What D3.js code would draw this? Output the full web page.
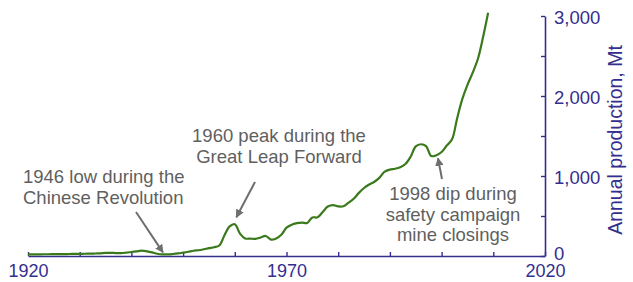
<!DOCTYPE html>
<html>
<head>
<meta charset="utf-8">
<script src="https://cdn.jsdelivr.net/npm/d3@7"></script>
<style>
  html, body { margin: 0; padding: 0; background: #fff; }
  svg { display: block; font-family: "Liberation Sans", Arial, Helvetica, sans-serif; }
</style>
</head>
<body>
<div id="chart"></div>
<script>
// China annual coal production, Mt
const years = d3.range(1920, 2010);
const production = [
  20, 20, 21, 22, 22, 23, 23, 24, 25, 26,
  27, 28, 29, 31, 34, 38, 40, 37, 36, 42,
  50, 58, 66, 58, 45, 28, 20, 20, 25, 32,
  42, 53, 66, 72, 84, 98, 110, 131, 260, 370,
  397, 280, 220, 217, 215, 232, 250, 205, 220, 266,
  354, 392, 410, 417, 413, 482, 483, 550, 618, 635,
  620, 622, 666, 715, 789, 850, 894, 928, 980, 1054,
  1080, 1090, 1110, 1150, 1240, 1370, 1397, 1373, 1250, 1260,
  1300, 1381, 1455, 1720, 1960, 2140, 2290, 2460, 2730, 3040
];
const xTickYears = [1920, 1930, 1940, 1950, 1960, 1970, 1980, 1990, 2000, 2010, 2020];
const xLabelYears = [1920, 1970, 2020];
const yTicks = [0, 500, 1000, 1500, 2000, 2500, 3000];
const yLabels = [0, 1000, 2000, 3000];
const yTitle = "Annual production, Mt";
const notes = [
  ["1946 low during the", "Chinese Revolution"],
  ["1960 peak during the", "Great Leap Forward"],
  ["1998 dip during", "safety campaign", "mine closings"]
];

const W = 633, H = 282;
const axisColor = "#342e8e";
const noteColor = "#5f5f5f";
const arrowColor = "#6e6e6e";

const svg = d3.select("#chart").append("svg").attr("width", W).attr("height", H);

const x = d3.scaleLinear().domain([1920, 2020]).range([28, 545]);
const y = d3.scaleLinear().domain([0, 3000]).range([256, 16]);

// x axis (ticks point up)
const gx = svg.append("g").attr("transform", `translate(0,${y(0)})`)
  .call(d3.axisBottom(x).tickValues(xTickYears).tickSizeInner(-4).tickSizeOuter(0).tickPadding(8)
    .tickFormat(d => xLabelYears.includes(d) ? String(d) : ""));
gx.select(".domain").attr("stroke", axisColor).attr("stroke-width", 1.6);
gx.selectAll(".tick line").attr("stroke", axisColor).attr("stroke-width", 1.4);
gx.selectAll(".tick text").attr("fill", axisColor).style("font-size", "18px")
  .style("font-family", "'Liberation Sans', Arial, sans-serif");

// y axis on the right (ticks point left, labels right)
const gy = svg.append("g").attr("transform", `translate(${x(2020)},0)`)
  .call(d3.axisRight(y).tickValues(yTicks).tickSizeInner(-4).tickSizeOuter(0).tickPadding(9)
    .tickFormat(d => yLabels.includes(d) ? d3.format(",")(d) : ""));
gy.select(".domain").attr("stroke", axisColor).attr("stroke-width", 1.6);
gy.selectAll(".tick line").attr("stroke", axisColor).attr("stroke-width", 1.4);
gy.selectAll(".tick text").attr("fill", axisColor)
  .attr("dy", d => d === 0 ? "0.2em" : "0.42em")
  .style("font-size", "18.5px")
  .style("font-family", "'Liberation Sans', Arial, sans-serif");

svg.append("text")
  .attr("transform", `translate(622,${(y(0) + y(3000)) / 2 + 4}) rotate(-90)`)
  .attr("text-anchor", "middle")
  .attr("fill", axisColor)
  .style("font-size", "19.5px")
  .text(yTitle);

// production line
const data = years.map((yr, i) => ({ year: yr, value: production[i] }));
const line = d3.line()
  .x(d => x(d.year))
  .y(d => y(d.value))
  .curve(d3.curveCatmullRom.alpha(0.5));

svg.append("path")
  .datum(data)
  .attr("fill", "none")
  .attr("stroke", "#3a7a1c")
  .attr("stroke-width", 2.2)
  .attr("stroke-linejoin", "round")
  .attr("d", line);

// annotations
svg.append("defs").append("marker")
  .attr("id", "head")
  .attr("viewBox", "0 0 10 10")
  .attr("refX", 9).attr("refY", 5)
  .attr("markerWidth", 4.2).attr("markerHeight", 4.2)
  .attr("markerUnits", "strokeWidth")
  .attr("orient", "auto")
  .append("path").attr("d", "M0,0L10,5L0,10z").attr("fill", arrowColor);

const valueAt = yr => production[years.indexOf(yr)];
const layout = [
  { anchor: "start", tx: 23, ty: 183, tail: [136, 212], tip: [x(1946.1), y(valueAt(1946)) - 2] },
  { anchor: "middle", tx: 279, ty: 142, tail: [255, 182], tip: [x(1960.3), y(valueAt(1960)) - 7] },
  { anchor: "middle", tx: 453, ty: 200, tail: [442, 179], tip: [x(1999.3), y(valueAt(1999)) + 3] }
];

notes.forEach((lines, i) => {
  const L = layout[i];
  const t = svg.append("text")
    .attr("text-anchor", L.anchor)
    .attr("fill", noteColor)
    .style("font-size", "18.5px");
  lines.forEach((s, j) => {
    t.append("tspan").attr("x", L.tx).attr("y", L.ty + j * 20.7).text(s);
  });
  svg.append("line")
    .attr("x1", L.tail[0]).attr("y1", L.tail[1])
    .attr("x2", L.tip[0]).attr("y2", L.tip[1])
    .attr("stroke", arrowColor)
    .attr("stroke-width", 2)
    .attr("marker-end", "url(#head)");
});
</script>
</body>
</html>
